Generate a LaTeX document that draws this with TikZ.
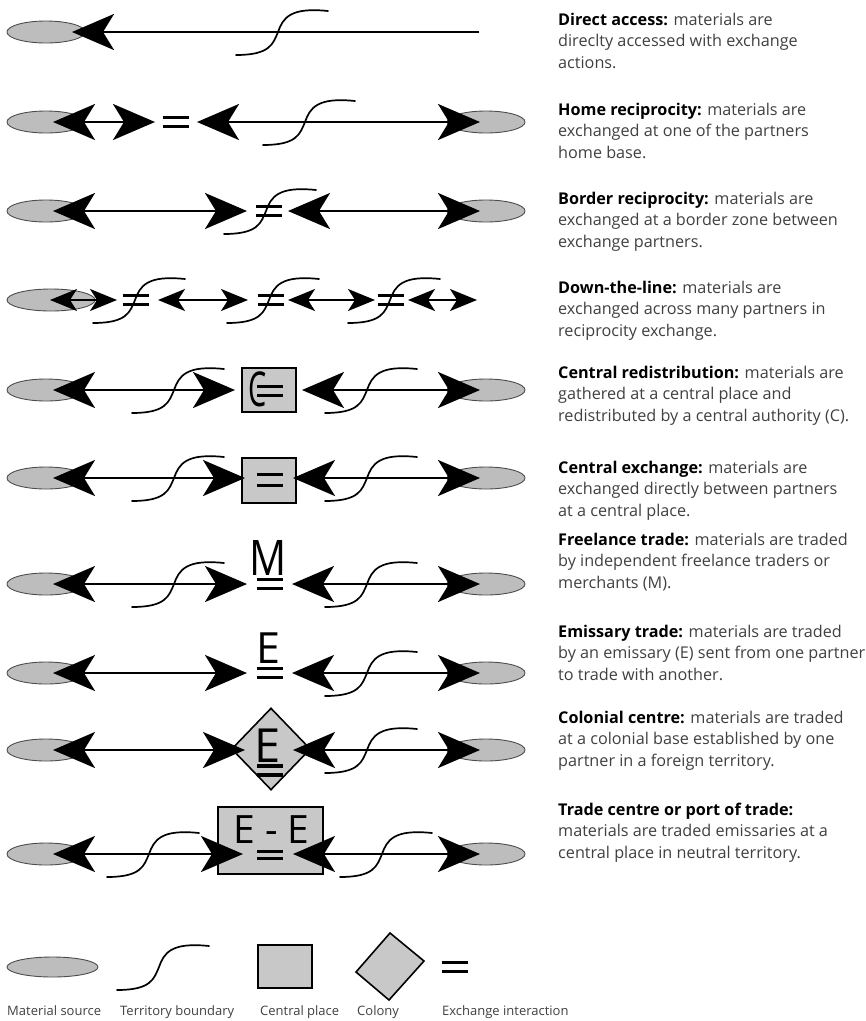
\documentclass[tikz,border=0pt]{standalone}
\usepackage{fontspec}
\setmainfont{Open Sans}
\usetikzlibrary{arrows.meta,shapes.geometric}

\definecolor{srcgray}{HTML}{BDBDBD}
\definecolor{boxgray}{HTML}{C8C8C8}
\definecolor{txtgray}{HTML}{404040}

\tikzset{
  src/.style={ellipse, draw=black!70, line width=0.9pt, fill=srcgray, minimum width=78pt, minimum height=22pt, inner sep=0pt},
  place/.style={rectangle, draw=black, line width=1.8pt, fill=boxgray, inner sep=0pt},
  colonyshape/.style={diamond, draw=black, line width=1.6pt, fill=boxgray, inner sep=0pt},
  flow/.style={line width=2.8pt, {Stealth[length=42pt,width=36pt,inset=11pt]}-{Stealth[length=42pt,width=36pt,inset=11pt]}},
  oneflow/.style={line width=2.8pt, -{Stealth[length=42pt,width=36pt,inset=11pt]}},
  smallflow/.style={line width=2pt, {Stealth[length=27pt,width=22pt,inset=7pt]}-{Stealth[length=27pt,width=22pt,inset=7pt]}},
  bound/.style={line width=1.7pt, line cap=round},
  eqbar/.style={line width=3.2pt},
  desctext/.style={font=\fontsize{16.2}{19}\selectfont, text=txtgray, inner sep=0pt, anchor=base west},
  labtext/.style={font=\fontsize{13}{15}\selectfont, text=txtgray, inner sep=0pt, anchor=base west},
  letter/.style={inner sep=0pt, anchor=base, text=black}
}

\newcommand\bnd[2]{\draw[bound, shift={(#1,#2)}] (-42,23) .. controls (-8,23) and (-5,12) .. (0,0) .. controls (5,-14) and (12,-25) .. (50,-21);}
\newcommand\eqs[3]{\draw[eqbar, shift={(#1,#2)}] (-13,-#3) -- (13,-#3) (-13,#3) -- (13,#3);}
\newcommand\flw[5]{\coordinate (#1a) at (#2,#4); \coordinate (#1b) at (#3,#4); \draw[#5] (#1a) -- (#1b);}
\newcommand\desc[5]{%
  \node[desctext] (#1a) at (558,#2) {#3};
  \node[desctext] (#1b) at (558,#2+21.5) {#4};
  \node[desctext] (#1c) at (558,#2+43) {#5};}
\newcommand\bt[1]{\textbf{\color{black}#1}}

\begin{document}
\begin{tikzpicture}[x=1pt,y=-1pt]
\useasboundingbox (0,0) rectangle (866,1021);

% ---------- Row 1: direct access
\node[src] (L1) at (46,32) {};
\flw{r1}{479}{72}{32}{oneflow}
\bnd{278}{32}

% ---------- Row 2: home reciprocity
\node[src] (L2) at (46,122) {};
\node[src] (R2) at (486,122) {};
\flw{r2s}{53}{155}{122}{flow}
\eqs{175.5}{122}{4.5}
\flw{r2l}{197}{480}{122}{flow}
\bnd{305}{122}

% ---------- Row 3: border reciprocity
\node[src] (L3) at (46,211) {};
\node[src] (R3) at (486,211) {};
\flw{r3l}{53}{247}{211}{flow}
\flw{r3r}{288}{480}{211}{flow}
\eqs{268.5}{211}{4.5}
\bnd{266}{211}

% ---------- Row 4: down-the-line
\node[src, minimum width=88pt] (L4) at (51,300) {};
\flw{r4a}{50}{117}{300}{smallflow}
\flw{r4b}{158}{248}{300}{smallflow}
\flw{r4c}{288}{375}{300}{smallflow}
\flw{r4d}{408}{477}{300}{smallflow}
\eqs{135.5}{300}{4.5}
\eqs{270.5}{300}{4.5}
\eqs{390.5}{300}{4.5}
\bnd{135}{300}
\bnd{269}{300}
\bnd{390}{300}

% ---------- Row 5: central redistribution
\node[src] (L5) at (46,390) {};
\node[src] (R5) at (486,390) {};
\node[place, minimum width=54pt, minimum height=44pt] (B5) at (269,390) {};
\flw{r5l}{53}{235}{390}{flow}
\flw{r5r}{302}{480}{390}{flow}
\node[letter, font=\fontsize{48}{48}\selectfont] (C5) at (258,406) {\scalebox{0.6}[1]{C}};
\eqs{270}{391}{4.2}
\bnd{174}{390}
\bnd{367}{390}

% ---------- Row 6: central exchange
\node[src] (L6) at (46,478) {};
\node[src] (R6) at (486,478) {};
\node[place, minimum width=54pt, minimum height=45pt] (B6) at (269,480.5) {};
\flw{r6l}{53}{245}{478}{flow}
\flw{r6r}{293}{480}{478}{flow}
\eqs{269.5}{480}{5.5}
\bnd{174}{478}
\bnd{367}{478}

% ---------- Row 7: freelance trade
\node[src] (L7) at (46,584) {};
\node[src] (R7) at (486,584) {};
\flw{r7l}{53}{247}{584}{flow}
\flw{r7r}{292}{480}{584}{flow}
\node[letter, font=\fontsize{49}{49}\selectfont] (M7) at (268.5,575) {\scalebox{0.84}[1]{M}};
\eqs{269.5}{584}{4.2}
\bnd{174}{584}
\bnd{367}{584}

% ---------- Row 8: emissary trade
\node[src] (L8) at (46,673) {};
\node[src] (R8) at (486,673) {};
\flw{r8l}{53}{247}{673}{flow}
\flw{r8r}{292}{480}{673}{flow}
\node[letter, font=\fontsize{43}{43}\selectfont] (E8) at (268,663) {E};
\eqs{269.5}{673}{4.5}
\bnd{367}{673}

% ---------- Row 9: colonial centre
\node[src] (L9) at (46,750) {};
\node[src] (R9) at (486,750) {};
\node[colonyshape, minimum width=79pt, minimum height=82pt] (D9) at (271,749) {};
\flw{r9l}{53}{245}{750}{flow}
\flw{r9r}{293}{480}{750}{flow}
\node[letter, font=\fontsize{47}{47}\selectfont] (E9) at (268,762) {E};
\eqs{270}{770.5}{4.5}
\bnd{367}{750}

% ---------- Row 10: trade centre
\node[src] (L10) at (46,854) {};
\node[src] (R10) at (486,854) {};
\node[place, minimum width=105pt, minimum height=67pt] (B10) at (270.5,840.5) {};
\flw{r10l}{53}{243}{854}{flow}
\flw{r10r}{293}{480}{854}{flow}
\node[letter, font=\fontsize{39}{39}\selectfont] (EE10) at (271.5,843) {E - E};
\eqs{270}{855}{3.8}
\bnd{149}{854}
\bnd{382}{854}

% ---------- Descriptions
\desc{d1}{25}{\bt{Direct access:} materials are}{direclty accessed with exchange}{actions.}
\desc{d2}{115}{\bt{Home reciprocity:} materials are}{exchanged at one of the partners}{home base.}
\desc{d3}{204}{\bt{Border reciprocity:} materials are}{exchanged at a border zone between}{exchange partners.}
\desc{d4}{293}{\bt{Down-the-line:} materials are}{exchanged across many partners in}{reciprocity exchange.}
\desc{d5}{378}{\bt{Central redistribution:} materials are}{gathered at a central place and}{redistributed by a central authority (C).}
\desc{d6}{473}{\bt{Central exchange:} materials are}{exchanged directly between partners}{at a central place.}
\desc{d7}{545}{\bt{Freelance trade:} materials are traded}{by independent freelance traders or}{merchants (M).}
\desc{d8}{637}{\bt{Emissary trade:} materials are traded}{by an emissary (E) sent from one partner}{to trade with another.}
\desc{d9}{723}{\bt{Colonial centre:} materials are traded}{at a colonial base established by one}{partner in a foreign territory.}
\desc{d10}{815}{\bt{Trade centre or port of trade:}}{materials are traded emissaries at a}{central place in neutral territory.}

% ---------- Legend
\node[src, minimum width=91pt, minimum height=20pt] (Lsrc) at (52.5,967) {};
\bnd{159}{967}
\node[place, minimum width=54pt, minimum height=43pt] (Lbox) at (285,966.5) {};
\draw[line width=1.6pt, fill=boxgray, line join=miter] (390,933) -- (424,961) -- (389,1000) -- (356,972) -- cycle;
\eqs{454.5}{967}{4.5}
\node[labtext] (lab1) at (7,1015) {Material source};
\node[labtext] (lab2) at (120,1015) {Territory boundary};
\node[labtext] (lab3) at (260,1015) {Central place};
\node[labtext] (lab4) at (357,1015) {Colony};
\node[labtext] (lab5) at (442,1015) {Exchange interaction};
\end{tikzpicture}
\end{document}
